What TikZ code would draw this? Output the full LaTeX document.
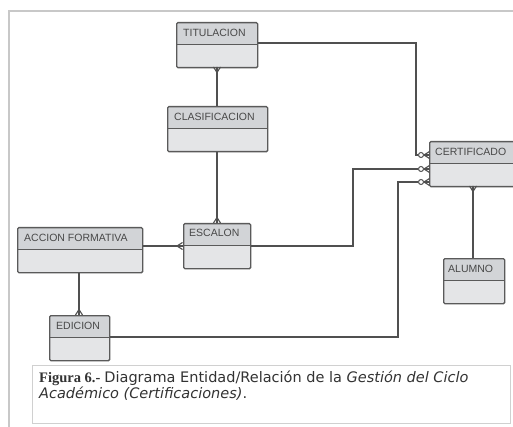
\documentclass[tikz,border=0pt]{standalone}
\usepackage{fontspec}
\setmainfont{Liberation Sans}
\newfontfamily\capsans{DejaVu Sans}
\newfontfamily\capserif{Liberation Serif}
\definecolor{hdrc}{HTML}{D2D4D7}
\definecolor{bodyc}{HTML}{E4E5E7}
\definecolor{bordc}{HTML}{5A5A5A}
\definecolor{linec}{HTML}{505050}
\definecolor{txtc}{HTML}{484848}
\definecolor{framec}{HTML}{C8C8C8}
\definecolor{capb}{HTML}{D0D0D0}
\definecolor{captxt}{HTML}{333333}
\tikzset{
  ent/.style={draw=bordc, line width=1.3pt, fill=bodyc, rounded corners=1.2pt,
    inner sep=0pt, anchor=north west, minimum height=45pt, minimum width=#1,
    path picture={
      \fill[hdrc] (path picture bounding box.north west) rectangle ([yshift=-22pt]path picture bounding box.north east);
      \draw[bordc, line width=1.2pt] ([yshift=-22pt]path picture bounding box.north west) -- ([yshift=-22pt]path picture bounding box.north east);
    }},
  etxt/.style={anchor=west, inner sep=0pt, text=txtc, font=\fontsize{10.5}{12}\selectfont},
  conn/.style={draw=linec, line width=1.1pt},
  circ/.style={circle, draw=linec, line width=1pt, fill=white, minimum size=5pt, inner sep=0pt},
  crow/.pic={\draw[conn] (0,0) -- (5.5,3.5) (0,0) -- (5.5,0) (0,0) -- (5.5,-3.5);}
}
\begin{document}
\begin{tikzpicture}[x=1pt, y=-1pt]
\clip (0,0) rectangle (513,427);
\fill[white] (0,0) rectangle (513,427);
% page frame
\draw[framec, line width=1.6pt] (9,427) -- (9,11) -- (513,11);

% entities
\node[ent=81]  (tit) at (176,22)  {};
\node[ent=100] (cla) at (167,106) {};
\node[ent=67]  (esc) at (183,223) {};
\node[ent=125] (acc) at (17,227)  {};
\node[ent=60]  (edi) at (49,315)  {};
\node[ent=100] (cer) at (429,141) {};
\node[ent=61]  (alu) at (443,258) {};

\node[etxt] (tit-t) at ([xshift=7pt,yshift=-10.5pt]tit.north west) {TITULACION};
\node[etxt] (cla-t) at ([xshift=7pt,yshift=-11pt]cla.north west) {CLASIFICACION};
\node[etxt] (esc-t) at ([xshift=6pt,yshift=-10pt]esc.north west) {ESCALON};
\node[etxt] (acc-t) at ([xshift=7pt,yshift=-10.5pt]acc.north west) {ACCION FORMATIVA};
\node[etxt] (edi-t) at ([xshift=7pt,yshift=-10.5pt]edi.north west) {EDICION};
\node[etxt] (cer-t) at ([xshift=6pt,yshift=-11pt]cer.north west) {CERTIFICADO};
\node[etxt] (alu-t) at ([xshift=5pt,yshift=-11pt]alu.north west) {ALUMNO};

% junction coordinates
\coordinate (j1) at (416,155);
\coordinate (j2) at (353,169);
\coordinate (j3) at (398,182);
\node[circ] (k1) at (421,155) {};
\node[circ] (k2) at (421,169) {};
\node[circ] (k3) at (421,182) {};

% TITULACION -> CERTIFICADO
\draw[conn] ([yshift=-21pt]tit.north east) -| (j1) -- (k1.west);
\draw[conn] (k1.east) -- (k1.east -| cer.west);
\pic at (424,155) {crow};
% ESCALON -> CERTIFICADO
\draw[conn] ([yshift=-23pt]esc.north east) -| (j2) -- (k2.west);
\draw[conn] (k2.east) -- (k2.east -| cer.west);
\pic at (424,169) {crow};
% EDICION -> CERTIFICADO
\draw[conn] ([yshift=-22pt]edi.north east) -| (j3) -- (k3.west);
\draw[conn] (k3.east) -- (k3.east -| cer.west);
\pic at (424,182) {crow};

% ACCION FORMATIVA -> ESCALON
\draw[conn] ([yshift=-19pt]acc.north east) -- ([yshift=-23pt]esc.north west);
\pic at (177,246) {crow};
% ACCION FORMATIVA -> EDICION
\draw[conn] (acc.south -| 79,0) -- (edi.north -| 79,0);
\pic[rotate=-90] at (79,309.5) {crow};
% TITULACION -> CLASIFICACION
\draw[conn] (tit.south -| 217,0) -- (cla.north -| 217,0);
\pic[rotate=90] at (217,72.5) {crow};
% CLASIFICACION -> ESCALON
\draw[conn] (cla.south -| 217,0) -- (esc.north -| 217,0);
\pic[rotate=-90] at (217,217.5) {crow};
% CERTIFICADO -> ALUMNO
\draw[conn] (cer.south -| 473,0) -- (alu.north -| 473,0);
\pic[rotate=90] at (473,191.5) {crow};

% caption
\node[draw=capb, line width=0.9pt, anchor=north west, minimum width=478pt, minimum height=58pt, inner sep=0pt] (capbox) at (32,365) {};
\node[anchor=base west, inner sep=0pt, text=captxt, font=\fontsize{14.5}{16}\selectfont] (cap1) at (39,382)
  {{\capserif\bfseries Figura 6.-} {\capsans Diagrama Entidad/Relación de la \itshape Gestión del Ciclo}};
\node[anchor=base west, inner sep=0pt, text=captxt, font=\fontsize{14.5}{16}\selectfont] (cap2) at (39,398)
  {{\capsans\itshape Académico (Certificaciones)}{\capsans .}};
\end{tikzpicture}
\end{document}
